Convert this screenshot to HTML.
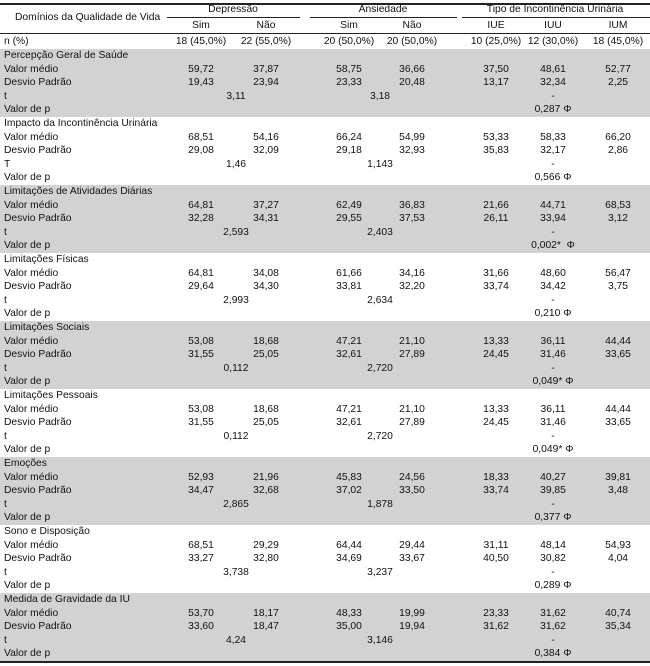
<!DOCTYPE html>
<html><head><meta charset="utf-8"><style>
body{margin:0;width:650px;height:666px;background:#fff;position:relative;font-family:"Liberation Sans",Arial,sans-serif;font-size:10.3px;color:#111;overflow:hidden}
.a{position:absolute;white-space:nowrap;line-height:13.5px}
.c{position:absolute;white-space:nowrap;line-height:13.5px;transform:translateX(-50%)}
.ln{position:absolute;height:1px;background:#222}
.sec{position:absolute;left:0;width:650px;height:68px}
.g{background:#d2d2d2}
.r{position:absolute;left:0;width:650px;height:13.5px}
.r .a{left:4px}
.x1{left:201px}.x2{left:266px}.x3{left:349px}.x4{left:412px}.x5{left:496px}.x6{left:553px}.x7{left:618px}.td{left:236px}.ta{left:380px}
</style></head><body>
<div class="ln" style="left:0;top:3px;width:650px;height:1.5px"></div>
<div class="ln" style="left:167px;top:17px;width:133px"></div>
<div class="ln" style="left:310px;top:17px;width:147px"></div>
<div class="ln" style="left:462px;top:17px;width:188px"></div>
<div class="ln" style="left:0;top:33px;width:650px"></div>
<div class="ln" style="left:0;top:661px;width:650px;height:1.5px"></div>
<div class="a" style="left:15px;top:11px">Domínios da Qualidade de Vida</div>
<div class="c" style="left:233px;top:3px">Depressão</div>
<div class="c" style="left:383px;top:3px">Ansiedade</div>
<div class="c" style="left:555px;top:3px">Tipo de Incontinência Urinária</div>
<div class="c x1" style="top:19px">Sim</div><div class="c x2" style="top:19px">Não</div>
<div class="c x3" style="top:19px">Sim</div><div class="c x4" style="top:19px">Não</div>
<div class="c x5" style="top:19px">IUE</div><div class="c x6" style="top:19px">IUU</div><div class="c x7" style="top:19px">IUM</div>
<div class="a" style="left:4px;top:35px">n (%)</div>
<div class="c x1" style="top:35px">18 (45,0%)</div><div class="c x2" style="top:35px">22 (55,0%)</div>
<div class="c x3" style="top:35px">20 (50,0%)</div><div class="c x4" style="top:35px">20 (50,0%)</div>
<div class="c x5" style="top:35px">10 (25,0%)</div><div class="c x6" style="top:35px">12 (30,0%)</div><div class="c x7" style="top:35px">18 (45,0%)</div>

<div class="sec g" style="top:49px">
<div class="r" style="top:0"><div class="a">Percepção Geral de Saúde</div></div>
<div class="r" style="top:13.5px"><div class="a">Valor médio</div><div class="c x1">59,72</div><div class="c x2">37,87</div><div class="c x3">58,75</div><div class="c x4">36,66</div><div class="c x5">37,50</div><div class="c x6">48,61</div><div class="c x7">52,77</div></div>
<div class="r" style="top:27px"><div class="a">Desvio Padrão</div><div class="c x1">19,43</div><div class="c x2">23,94</div><div class="c x3">23,33</div><div class="c x4">20,48</div><div class="c x5">13,17</div><div class="c x6">32,34</div><div class="c x7">2,25</div></div>
<div class="r" style="top:40.5px"><div class="a">t</div><div class="c td">3,11</div><div class="c ta">3,18</div><div class="c x6">-</div></div>
<div class="r" style="top:54px"><div class="a">Valor de p</div><div class="c x6">0,287 Φ</div></div>
</div>

<div class="sec" style="top:117px">
<div class="r" style="top:0"><div class="a">Impacto da Incontinência Urinária</div></div>
<div class="r" style="top:13.5px"><div class="a">Valor médio</div><div class="c x1">68,51</div><div class="c x2">54,16</div><div class="c x3">66,24</div><div class="c x4">54,99</div><div class="c x5">53,33</div><div class="c x6">58,33</div><div class="c x7">66,20</div></div>
<div class="r" style="top:27px"><div class="a">Desvio Padrão</div><div class="c x1">29,08</div><div class="c x2">32,09</div><div class="c x3">29,18</div><div class="c x4">32,93</div><div class="c x5">35,83</div><div class="c x6">32,17</div><div class="c x7">2,86</div></div>
<div class="r" style="top:40.5px"><div class="a">T</div><div class="c td">1,46</div><div class="c ta">1,143</div><div class="c x6">-</div></div>
<div class="r" style="top:54px"><div class="a">Valor de p</div><div class="c x6">0,566 Φ</div></div>
</div>

<div class="sec g" style="top:185px">
<div class="r" style="top:0"><div class="a">Limitações de Atividades Diárias</div></div>
<div class="r" style="top:13.5px"><div class="a">Valor médio</div><div class="c x1">64,81</div><div class="c x2">37,27</div><div class="c x3">62,49</div><div class="c x4">36,83</div><div class="c x5">21,66</div><div class="c x6">44,71</div><div class="c x7">68,53</div></div>
<div class="r" style="top:27px"><div class="a">Desvio Padrão</div><div class="c x1">32,28</div><div class="c x2">34,31</div><div class="c x3">29,55</div><div class="c x4">37,53</div><div class="c x5">26,11</div><div class="c x6">33,94</div><div class="c x7">3,12</div></div>
<div class="r" style="top:40.5px"><div class="a">t</div><div class="c td">2,593</div><div class="c ta">2,403</div><div class="c x6">-</div></div>
<div class="r" style="top:54px"><div class="a">Valor de p</div><div class="c x6">0,002* &nbsp;Φ</div></div>
</div>

<div class="sec" style="top:253px">
<div class="r" style="top:0"><div class="a">Limitações Físicas</div></div>
<div class="r" style="top:13.5px"><div class="a">Valor médio</div><div class="c x1">64,81</div><div class="c x2">34,08</div><div class="c x3">61,66</div><div class="c x4">34,16</div><div class="c x5">31,66</div><div class="c x6">48,60</div><div class="c x7">56,47</div></div>
<div class="r" style="top:27px"><div class="a">Desvio Padrão</div><div class="c x1">29,64</div><div class="c x2">34,30</div><div class="c x3">33,81</div><div class="c x4">32,20</div><div class="c x5">33,74</div><div class="c x6">34,42</div><div class="c x7">3,75</div></div>
<div class="r" style="top:40.5px"><div class="a">t</div><div class="c td">2,993</div><div class="c ta">2,634</div><div class="c x6">-</div></div>
<div class="r" style="top:54px"><div class="a">Valor de p</div><div class="c x6">0,210 Φ</div></div>
</div>

<div class="sec g" style="top:321px">
<div class="r" style="top:0"><div class="a">Limitações Sociais</div></div>
<div class="r" style="top:13.5px"><div class="a">Valor médio</div><div class="c x1">53,08</div><div class="c x2">18,68</div><div class="c x3">47,21</div><div class="c x4">21,10</div><div class="c x5">13,33</div><div class="c x6">36,11</div><div class="c x7">44,44</div></div>
<div class="r" style="top:27px"><div class="a">Desvio Padrão</div><div class="c x1">31,55</div><div class="c x2">25,05</div><div class="c x3">32,61</div><div class="c x4">27,89</div><div class="c x5">24,45</div><div class="c x6">31,46</div><div class="c x7">33,65</div></div>
<div class="r" style="top:40.5px"><div class="a">t</div><div class="c td">0,112</div><div class="c ta">2,720</div><div class="c x6">-</div></div>
<div class="r" style="top:54px"><div class="a">Valor de p</div><div class="c x6">0,049* Φ</div></div>
</div>

<div class="sec" style="top:389px">
<div class="r" style="top:0"><div class="a">Limitações Pessoais</div></div>
<div class="r" style="top:13.5px"><div class="a">Valor médio</div><div class="c x1">53,08</div><div class="c x2">18,68</div><div class="c x3">47,21</div><div class="c x4">21,10</div><div class="c x5">13,33</div><div class="c x6">36,11</div><div class="c x7">44,44</div></div>
<div class="r" style="top:27px"><div class="a">Desvio Padrão</div><div class="c x1">31,55</div><div class="c x2">25,05</div><div class="c x3">32,61</div><div class="c x4">27,89</div><div class="c x5">24,45</div><div class="c x6">31,46</div><div class="c x7">33,65</div></div>
<div class="r" style="top:40.5px"><div class="a">t</div><div class="c td">0,112</div><div class="c ta">2,720</div><div class="c x6">-</div></div>
<div class="r" style="top:54px"><div class="a">Valor de p</div><div class="c x6">0,049* Φ</div></div>
</div>

<div class="sec g" style="top:457px">
<div class="r" style="top:0"><div class="a">Emoções</div></div>
<div class="r" style="top:13.5px"><div class="a">Valor médio</div><div class="c x1">52,93</div><div class="c x2">21,96</div><div class="c x3">45,83</div><div class="c x4">24,56</div><div class="c x5">18,33</div><div class="c x6">40,27</div><div class="c x7">39,81</div></div>
<div class="r" style="top:27px"><div class="a">Desvio Padrão</div><div class="c x1">34,47</div><div class="c x2">32,68</div><div class="c x3">37,02</div><div class="c x4">33,50</div><div class="c x5">33,74</div><div class="c x6">39,85</div><div class="c x7">3,48</div></div>
<div class="r" style="top:40.5px"><div class="a">t</div><div class="c td">2,865</div><div class="c ta">1,878</div><div class="c x6">-</div></div>
<div class="r" style="top:54px"><div class="a">Valor de p</div><div class="c x6">0,377 Φ</div></div>
</div>

<div class="sec" style="top:525px">
<div class="r" style="top:0"><div class="a">Sono e Disposição</div></div>
<div class="r" style="top:13.5px"><div class="a">Valor médio</div><div class="c x1">68,51</div><div class="c x2">29,29</div><div class="c x3">64,44</div><div class="c x4">29,44</div><div class="c x5">31,11</div><div class="c x6">48,14</div><div class="c x7">54,93</div></div>
<div class="r" style="top:27px"><div class="a">Desvio Padrão</div><div class="c x1">33,27</div><div class="c x2">32,80</div><div class="c x3">34,69</div><div class="c x4">33,67</div><div class="c x5">40,50</div><div class="c x6">30,82</div><div class="c x7">4,04</div></div>
<div class="r" style="top:40.5px"><div class="a">t</div><div class="c td">3,738</div><div class="c ta">3,237</div><div class="c x6">-</div></div>
<div class="r" style="top:54px"><div class="a">Valor de p</div><div class="c x6">0,289 Φ</div></div>
</div>

<div class="sec g" style="top:593px">
<div class="r" style="top:0"><div class="a">Medida de Gravidade da IU</div></div>
<div class="r" style="top:13.5px"><div class="a">Valor médio</div><div class="c x1">53,70</div><div class="c x2">18,17</div><div class="c x3">48,33</div><div class="c x4">19,99</div><div class="c x5">23,33</div><div class="c x6">31,62</div><div class="c x7">40,74</div></div>
<div class="r" style="top:27px"><div class="a">Desvio Padrão</div><div class="c x1">33,60</div><div class="c x2">18,47</div><div class="c x3">35,00</div><div class="c x4">19,94</div><div class="c x5">31,62</div><div class="c x6">31,62</div><div class="c x7">35,34</div></div>
<div class="r" style="top:40.5px"><div class="a">t</div><div class="c td">4,24</div><div class="c ta">3,146</div><div class="c x6">-</div></div>
<div class="r" style="top:54px"><div class="a">Valor de p</div><div class="c x6">0,384 Φ</div></div>
</div>
</body></html>
